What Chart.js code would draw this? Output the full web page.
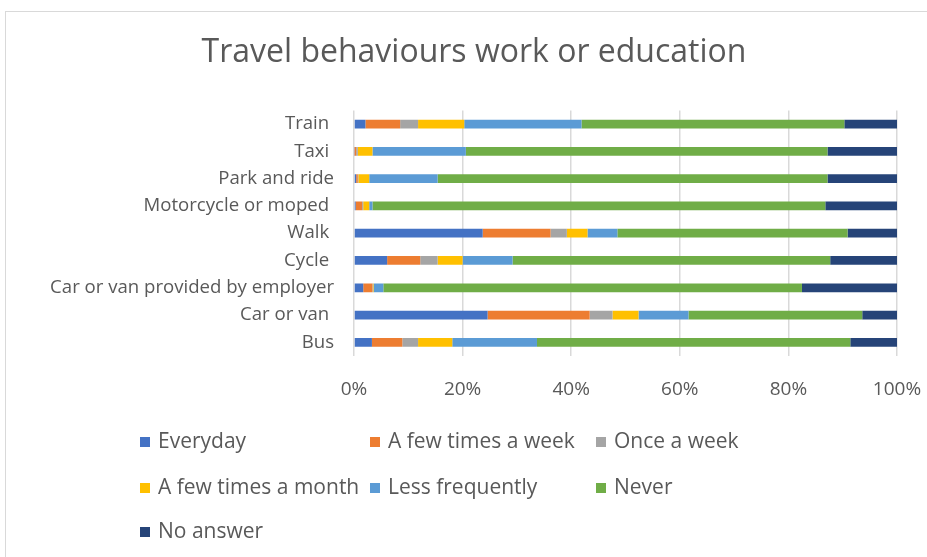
<!DOCTYPE html>
<html>
<head>
<meta charset="utf-8">
<script src="https://cdn.jsdelivr.net/npm/chart.js@4"></script>
<style>
  body { margin: 0; background: #fff; }
  #wrap { position: relative; width: 927px; height: 557px; overflow: hidden; }
  #frame { position: absolute; left: 5px; top: 11px; width: 940px; height: 560px; border: 1px solid #d9d9d9; box-sizing: border-box; }
  #graph { position: absolute; left: 0; top: 0; }
  .leg { position: absolute; font-family: 'Open Sans', sans-serif; font-size: 21px; color: #595959; white-space: nowrap; line-height: 22px; }
  .leg span { display: inline-block; width: 10px; height: 10px; margin-right: 8px; vertical-align: 1px; }
</style>
</head>
<body>
<div id="wrap">
  <div id="frame"></div>
  <canvas id="graph" width="927" height="557"></canvas>
  <div id="legend"></div>
</div>
<script>
var categories = ['Train ', 'Taxi ', 'Park and ride', 'Motorcycle or moped ', 'Walk ', 'Cycle ',
                  'Car or van provided by employer', 'Car or van ', 'Bus'];
var seriesNames = ['Everyday', 'A few times a week', 'Once a week', 'A few times a month',
                   'Less frequently', 'Never', 'No answer'];
var colors = ['#4472C4', '#ED7D31', '#A5A5A5', '#FFC000', '#5B9BD5', '#70AD47', '#264478'];

// % per category, same order as categories
var everyday     = [2.1, 0.1, 0.4, 0.3, 23.7, 6.1, 1.7, 24.6, 3.3];
var fewWeek      = [6.4, 0.3, 0.3, 1.2, 12.5, 6.1, 1.7, 18.8, 5.6];
var onceWeek     = [3.3, 0.3, 0.1, 0.2, 3.0, 3.2, 0.1, 4.2, 2.9];
var fewMonth     = [8.5, 2.7, 2.0, 1.1, 3.8, 4.6, 0.1, 4.8, 6.3];
var lessOften    = [21.6, 17.2, 12.6, 0.6, 5.5, 9.2, 1.8, 9.2, 15.6];
var never        = [48.4, 66.6, 71.8, 83.4, 42.4, 58.5, 77.1, 32.0, 57.7];
var noAnswer     = [9.7, 12.8, 12.8, 13.2, 9.1, 12.3, 17.5, 6.4, 8.6];
var xTicks = [0, 20, 40, 60, 80, 100];

var values = [everyday, fewWeek, onceWeek, fewMonth, lessOften, never, noAnswer];

var drawGraph = function(){
  var ctx = document.getElementById('graph').getContext('2d');
  var datasets = seriesNames.map(function(name, i){
    return { label: name, data: values[i], backgroundColor: colors[i],
             borderWidth: 0, categoryPercentage: 1, barPercentage: 0.32 };
  });
  new Chart(ctx, {
    type: 'bar',
    data: { labels: categories, datasets: datasets },
    options: {
      indexAxis: 'y',
      responsive: false,
      animation: false,
      layout: { padding: { left: 51, right: 30, top: 0, bottom: 161 } },
      plugins: {
        legend: { display: false },
        tooltip: { enabled: false },
        title: { display: true, text: 'Travel behaviours work or education',
                 color: '#595959', font: { family: 'Open Sans', size: 32, weight: 'normal' },
                 padding: { top: 34, bottom: 38 } }
      },
      scales: {
        x: {
          stacked: true, min: 0, max: 100,
          afterBuildTicks: function(s){ s.ticks = xTicks.map(function(v){ return { value: v }; }); },
          afterFit: function(s){ s.height = 40; s.paddingLeft = 0; s.paddingRight = 0; },
          grid: { color: '#d9d9d9', lineWidth: 1.5, drawTicks: false },
          border: { display: false },
          ticks: { color: '#595959', padding: 22, font: { family: 'Open Sans', size: 19 },
                   callback: function(v){ return v + '%'; } }
        },
        y: {
          stacked: true,
          afterFit: function(s){ s.width = 303; },
          grid: { display: false, drawTicks: false },
          border: { display: false },
          ticks: { color: '#595959', padding: 20, font: { family: 'Open Sans', size: 18.6 } }
        }
      }
    }
  });
};

var drawLegend = function(){
  var cols = [140, 370, 596], rows = [429, 475, 519];
  var html = '';
  seriesNames.forEach(function(name, i){
    html += '<div class="leg" style="left:' + cols[i % 3] + 'px;top:' + rows[Math.floor(i / 3)] + 'px">' +
            '<span style="background:' + colors[i] + '"></span>' + name + '</div>';
  });
  document.getElementById('legend').innerHTML = html;
};

window.onload = function(){
  drawGraph();
  drawLegend();
};
</script>
</body>
</html>
